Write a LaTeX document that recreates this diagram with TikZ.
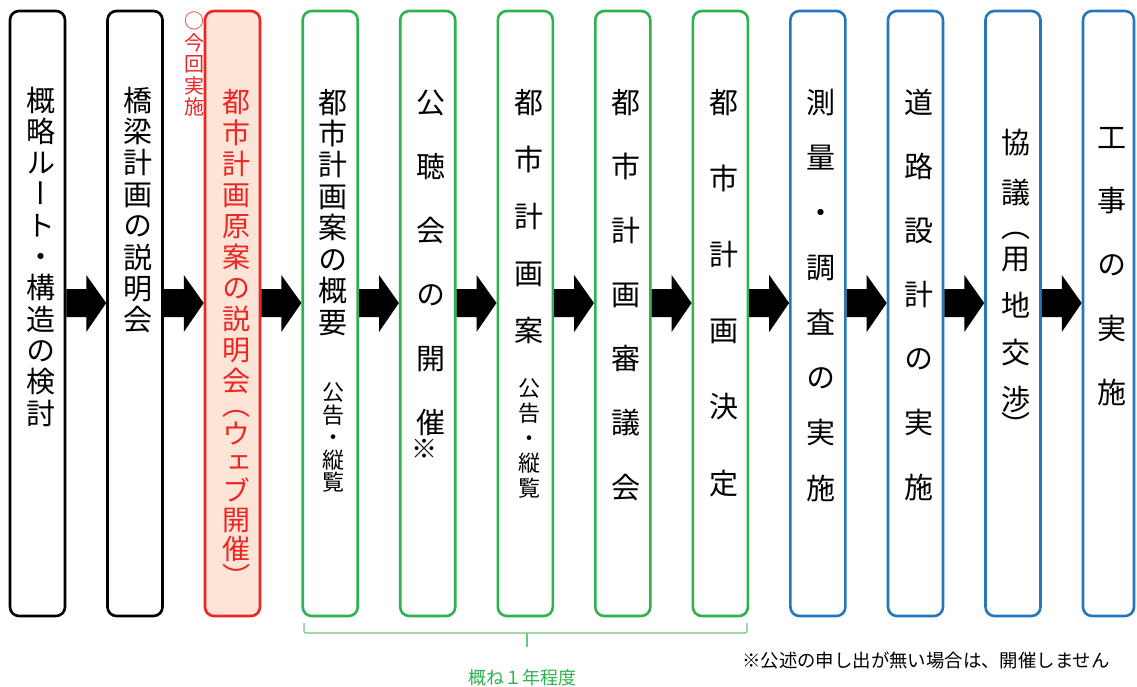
\documentclass[tikz,border=0pt]{standalone}
\usepackage{fontspec}
\usetikzlibrary{calc}
\newfontfamily\jpv[RawFeature=+vert]{Noto Sans CJK JP}
\newfontfamily\jph{Noto Sans CJK JP}
\newcommand{\cs}{\rule[-0.12em]{0pt}{1em}}
\definecolor{cred}{RGB}{236,38,36}
\definecolor{cpeach}{RGB}{252,228,214}
\definecolor{cgreen}{RGB}{46,178,78}
\definecolor{cgreenl}{RGB}{110,200,120}
\definecolor{cblue}{RGB}{38,118,190}
\newcommand{\barrow}[2]{\fill let \p1=(#1.east), \p2=(#2.west) in
  (\x1,\y1+24.5pt) -- (\x1+20pt,\y1+24.5pt) -- (\x1+20pt,\y1+38.5pt) -- (\x2,\y1+10.5pt)
  -- (\x1+20pt,\y1-18.5pt) -- (\x1+20pt,\y1-3.5pt) -- (\x1,\y1-3.5pt) -- cycle;}
\begin{document}
\begin{tikzpicture}[x=1pt,y=-1pt,
  box/.style={draw, line width=2.6pt, rounded corners=9pt, minimum width=55pt, minimum height=605pt, inner sep=0pt, fill=white},
  kbox/.style={box, draw=black},
  rbox/.style={box, draw=cred, fill=cpeach},
  gbox/.style={box, draw=cgreen},
  bbox/.style={box, draw=cblue},
  col/.style={align=center, inner sep=0pt, outer sep=0pt},
  big/.style={col, font=\jpv\fontsize{29}{#1}\selectfont},
  small/.style={col, font=\jpv\fontsize{22}{#1}\selectfont},
]
\useasboundingbox (0,0) rectangle (1137,686);
\fill[white] (0,0) rectangle (1137,686);

% boxes
\node[kbox] (b1) at (37.5,313.5) {};
\node[kbox] (b2) at (135,313.5) {};
\node[rbox] (b3) at (232.5,313.5) {};
\node[gbox] (b4) at (330.2,313.5) {};
\node[gbox] (b5) at (427.7,313.5) {};
\node[gbox] (b6) at (525.3,313.5) {};
\node[gbox] (b7) at (622.8,313.5) {};
\node[gbox] (b8) at (720.4,313.5) {};
\node[bbox] (b9) at (817.9,313.5) {};
\node[bbox] (b10) at (915.5,313.5) {};
\node[bbox] (b11) at (1013,313.5) {};
\node[bbox, minimum width=51pt] (b12) at (1108.5,313.5) {};

% arrows
\barrow{b1}{b2}
\barrow{b2}{b3}
\barrow{b3}{b4}
\barrow{b4}{b5}
\barrow{b5}{b6}
\barrow{b6}{b7}
\barrow{b7}{b8}
\barrow{b8}{b9}
\barrow{b9}{b10}
\barrow{b10}{b11}
\barrow{b11}{b12}

% texts
\node[big=31.3] (t1) at (41,256.5) {\cs{}概\\略\\ル\\ー\\ト\\・\\構\\造\\の\\検\\討\cs{}};
\node[big=31.4] (t2) at (138,210) {\cs{}橋\\梁\\計\\画\\の\\説\\明\\会\cs{}};
\node[col, text=cred, font=\jpv\fontsize{28}{31}\selectfont] (t3) at (236,339.6)
  {\cs{}都\\市\\計\\画\\原\\案\\の\\説\\明\\会\\[-7pt]（\\[-2.3pt]ウ\\[-2.3pt]ェ\\[-2.3pt]ブ\\[-2.3pt]開\\[-2.3pt]催\\[-2.3pt]）\cs{}};
\node[col, text=cred, font=\jpv\fontsize{20}{21.5}\selectfont] (now) at (194,64) {\cs{}○\\今\\回\\実\\施\cs{}};
\node[big=31.43] (t4a) at (333,212) {\cs{}都\\市\\計\\画\\案\\の\\概\\要\cs{}};
\node[small=22.5] (t4b) at (333,437.5) {\cs{}公\\告\\・\\縦\\覧\cs{}};
\node[big=64] (t5) at (431,262) {\cs{}公\\聴\\会\\の\\開\\催\cs{}};
\node[col, font=\jpv\fontsize{26}{28}\selectfont] (t5n) at (424,449) {\cs{}※\cs{}};
\node[big=57] (t6a) at (529,216) {\cs{}都\\市\\計\\画\\案\cs{}};
\node[small=25] (t6b) at (529,438) {\cs{}公\\告\\・\\縦\\覧\cs{}};
\node[big=64.17] (t7) at (626,294.5) {\cs{}都\\市\\計\\画\\審\\議\\会\cs{}};
\node[big=76.2] (t8) at (723.5,292.5) {\cs{}都\\市\\計\\画\\決\\定\cs{}};
\node[big=55.14] (t9) at (821,295) {\cs{}測\\量\\・\\調\\査\\の\\実\\施\cs{}};
\node[big=64.17] (t10) at (918.5,294.5) {\cs{}道\\路\\設\\計\\の\\実\\施\cs{}};
\node[big=47.3] (t11) at (1016,284)
  {\cs{}協\\[2.7pt]議\\[-13.3pt]（\\[-15.3pt]用\\地\\交\\渉\\[-21.3pt]）\cs{}};
\node[big=63.75] (t12) at (1112,264.5) {\cs{}工\\事\\の\\実\\施\cs{}};

% brace
\draw[cgreenl, line width=1.1pt, rounded corners=2pt] (304,623) -- (304,633) -- (747,633) -- (747,623);
\draw[cgreenl, line width=1.1pt] (527,633) -- (527,647);
\node[text=cgreen, font=\jph\fontsize{18}{20}\selectfont, inner sep=0pt] (dur) at (522,678) {概ね１年程度};
\node[font=\jph\fontsize{18.4}{20}\selectfont, inner sep=0pt] (note) at (926,660) {※公述の申し出が無い場合は、開催しません};
\end{tikzpicture}
\end{document}
